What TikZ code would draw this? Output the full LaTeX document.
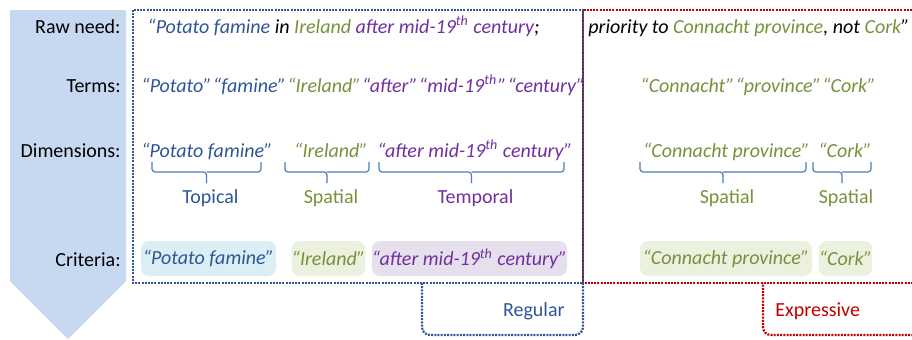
\documentclass[tikz,border=0pt]{standalone}
\usepackage{fontspec}
\setmainfont{Carlito}
\definecolor{cBlue}{RGB}{47,85,151}
\definecolor{cGreen}{RGB}{118,146,60}
\definecolor{cPurple}{RGB}{112,48,160}
\definecolor{cRed}{RGB}{192,0,0}
\definecolor{cBrace}{RGB}{74,126,187}
\definecolor{cArrow}{RGB}{198,217,241}
\definecolor{fBlue}{RGB}{218,238,243}
\definecolor{fGreen}{RGB}{235,241,222}
\definecolor{fPurple}{RGB}{229,224,236}
\newcommand{\myTight}{\itshape\spaceskip=0.06em\relax}
\tikzset{
  rowname/.style = {anchor=base east},
  phrase/.style  = {anchor=base west, font=\itshape},
  termrow/.style = {anchor=base west, font=\myTight},
  dimtext/.style = {anchor=base, font=\itshape},
  crit/.style    = {rounded corners=4pt, minimum height=17.5pt, font=\itshape},
  dotbox/.style  = {line width=1.1pt, dash pattern=on 1pt off 0.6pt},
  regbox/.style  = {dotbox, draw=cBlue},
  expbox/.style  = {dotbox, draw=cRed, dash phase=0.8pt},
  braceline/.style = {draw=cBrace, line width=0.6pt, rounded corners=1.5pt}
}
% brace under a dimension: from x #1 to x #2, name #3, text #4, colour #5
\newcommand{\myBrace}[5]{
\coordinate (#3) at ({(#1+#2)/2},183);
\draw[braceline] (#1,162) -- (#1,172) -- ({(#1+#2)/2},172) -- (#3);
\draw[braceline] ({(#1+#2)/2},172) -- (#2,172) -- (#2,162);
\node[anchor=base, text=#5] (#3-lab) at ({(#1+#2)/2+4},203) {#4};
}

\begin{document}
\begin{tikzpicture}[x=0.5pt, y=-0.5pt, every node/.style={inner sep=0pt}]
	\useasboundingbox (0,0) rectangle (912,339);

	% flow arrow
	\fill[cArrow] (10,10) -- (126,10) -- (126,281) -- (68,339) -- (10,281) -- cycle;

	% row names
	\node[rowname] (nRaw)  at (121,33)  {Raw need:};
	\node[rowname] (nTerm) at (121,92)  {Terms:};
	\node[rowname] (nDim)  at (121,157) {Dimensions:};
	\node[rowname] (nCrit) at (121,266) {Criteria:};

	% raw need
	\node[phrase] (rawReg) at (147,33) {\color{cBlue}“Potato famine \color{black}in \color{cGreen}Ireland \color{cPurple}after mid-19\textsuperscript{th} century\color{black};};
	\node[phrase] (rawExp) at (588,33) {priority to \color{cGreen}Connacht province\color{black}, not \color{cGreen}Cork\color{black}”};

	% terms
	\node[termrow] (termReg) at (141,92) {\color{cBlue}“Potato” “famine” \color{cGreen}“Ireland” \color{cPurple}“after” “mid-19\textsuperscript{th}\kern0.4pt” “century”};
	\node[termrow, text=cGreen] (termExp) at (640,92) {“Connacht” “province” “Cork”};

	% dimensions
	\node[dimtext, text=cBlue]   (dPotato)   at (207,157)   {“Potato famine”};
	\node[dimtext, text=cGreen]  (dIreland)  at (331,157)   {“Ireland”};
	\node[dimtext, text=cPurple] (dAfter)    at (475,157)   {“after mid-19\textsuperscript{th} century”};
	\node[dimtext, text=cGreen]  (dConnacht) at (726.5,157) {“Connacht province”};
	\node[dimtext, text=cGreen]  (dCork)     at (845,157)   {“Cork”};

	\myBrace{152}{261}{bPotato}{Topical}{cBlue}
	\myBrace{285}{369}{bIreland}{Spatial}{cGreen}
	\myBrace{379}{564}{bAfter}{Temporal}{cPurple}
	\myBrace{640}{806}{bConnacht}{Spatial}{cGreen}
	\myBrace{813}{871}{bCork}{Spatial}{cGreen}

	% criteria
	\node[crit, fill=fBlue, text=cBlue, minimum width=67.5pt]      (cPotato)   at (208.5,258.5) {“Potato famine”};
	\node[crit, fill=fGreen, text=cGreen, minimum width=35.5pt]    (cIreland)  at (328.5,258.5) {“Ireland”};
	\node[crit, fill=fPurple, text=cPurple, minimum width=97.5pt]  (cAfter)    at (469.5,258.5) {“after mid-19\textsuperscript{th} century”};
	\node[crit, fill=fGreen, text=cGreen, minimum width=86pt]      (cConnacht) at (726,258.5)   {“Connacht province”};
	\node[crit, fill=fGreen, text=cGreen, minimum width=25.5pt]    (cCork)     at (845.5,258.5) {“Cork”};

	% regular and expressive parts
	\draw[expbox] (583,283) -- (583,10) -- (930,10);
	\draw[expbox] (583,283) -- (930,283);
	\draw[expbox, rounded corners=4pt] (763,283) -- (763,335) -- (930,335);
	\draw[regbox] (133,10) rectangle (583,283);
	\draw[regbox, rounded corners=4pt] (583,283) -- (583,335) -- (422,335) -- (422,283);

	\node[anchor=base east, text=cBlue] (tReg) at (565,316) {Regular};
	\node[anchor=base west, text=cRed]  (tExp) at (775,316) {Expressive};
\end{tikzpicture}
\end{document}
